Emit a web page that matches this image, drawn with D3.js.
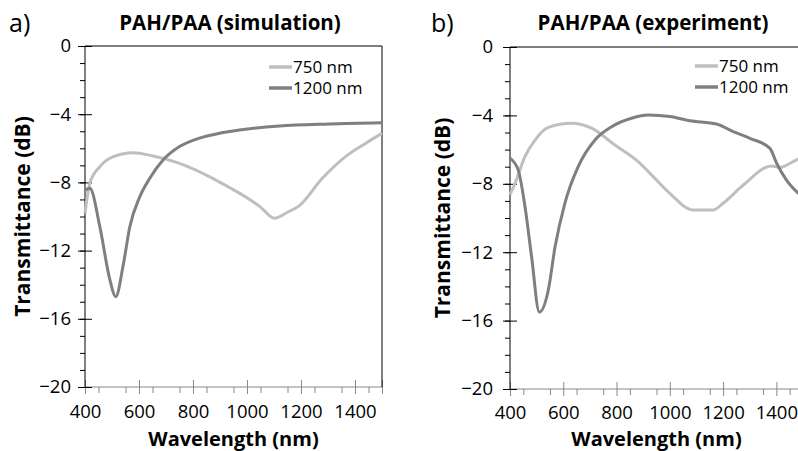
<!DOCTYPE html>
<html>
<head>
<meta charset="utf-8">
<script src="https://cdn.jsdelivr.net/npm/d3@7"></script>
<style>
  body { margin: 0; background: #fff; }
  svg text { font-family: "Open Sans", "Liberation Sans", sans-serif; fill: #000; }
</style>
</head>
<body>
<svg id="chart" width="798" height="451"></svg>
<script>
"use strict";

// simulation (panel a)
var simNm750 = [400, 418, 455, 505, 578, 652, 750, 873, 935, 1000, 1050, 1101, 1150, 1193, 1279, 1365, 1440, 1500];
var simDb750 = [-9.8, -8.05, -7.08, -6.49, -6.26, -6.45, -6.88, -7.76, -8.3, -8.9, -9.45, -10.1, -9.75, -9.38, -7.76, -6.49, -5.7, -5.12];
var simNm1200 = [400, 418, 455, 492, 514, 541, 566, 603, 640, 689, 750, 824, 898, 972, 1120, 1304, 1500];
var simDb1200 = [-8.45, -8.35, -10.6, -13.7, -14.7, -12.9, -10.6, -8.84, -7.76, -6.69, -5.9, -5.4, -5.12, -4.93, -4.69, -4.57, -4.5];

// experiment (panel b)
var expNm750 = [400, 419, 456, 494, 544, 631, 706, 794, 881, 944, 1000, 1088, 1163, 1200, 1276, 1382, 1413, 1463, 1500];
var expDb750 = [-8.65, -7.97, -6.41, -5.44, -4.7, -4.46, -4.75, -5.73, -6.7, -7.68, -8.56, -9.53, -9.53, -9.14, -8.07, -6.96, -7.04, -6.7, -6.4];
var expNm1200 = [400, 431, 456, 481, 510, 544, 569, 606, 656, 719, 782, 856, 919, 1000, 1075, 1175, 1238, 1301, 1376, 1401, 1438, 1476, 1500];
var expDb1200 = [-6.5, -7.2, -9.3, -12.26, -15.5, -14.2, -11.7, -9.14, -7.0, -5.44, -4.66, -4.17, -3.98, -4.07, -4.31, -4.5, -4.95, -5.34, -5.93, -6.8, -7.78, -8.46, -8.8];

var seriesNames = ["750 nm", "1200 nm"];
var xMajor = [400, 600, 800, 1000, 1200, 1400];
var yMajor = [0, -4, -8, -12, -16, -20];

var colours = ["#bfbfbf", "#7f7f7f"];

var svg = d3.select("#chart");

function zip(xs, ys) {
    return xs.map(function (x, i) { return [x, ys[i]]; });
}

function drawPanel(p) {
    var x = d3.scaleLinear().domain([400, 1500]).range([p.left, p.right]),
        y = d3.scaleLinear().domain([-20, 0]).range([p.bottom, p.top]);

    var g = svg.append("g");

    // minor x ticks (50 nm)
    g.append("g")
        .attr("transform", "translate(0," + p.bottom + ")")
        .call(d3.axisBottom(x).tickValues(d3.range(450, 1500, 100)).tickSize(6).tickFormat(""))
        .call(function (a) {
            a.select(".domain").remove();
            a.selectAll("line").attr("stroke", "#888");
        });

    // major x axis
    g.append("g")
        .attr("transform", "translate(0," + p.bottom + ")")
        .call(d3.axisBottom(x).tickValues(xMajor.concat([1500])).tickSize(7).tickPadding(p.xPad).tickFormat(function (d) {
            return d === 1500 ? "" : d;
        }))
        .call(function (a) {
            a.select(".domain").attr("stroke", "#888").attr("d", "M" + p.left + ",0H" + p.right);
            a.selectAll("line").attr("stroke", "#888").attr("y1", -7);
            a.selectAll("text").style("font-size", "18.5px").attr("fill", "#000");
        });

    // minor y ticks (1 dB)
    g.append("g")
        .attr("transform", "translate(" + p.left + ",0)")
        .call(d3.axisLeft(y).tickValues(d3.range(-19, 0, 1)).tickSize(5).tickFormat(""))
        .call(function (a) {
            a.select(".domain").remove();
            a.selectAll("line").attr("stroke", "#000");
        });

    // major y axis
    g.append("g")
        .attr("transform", "translate(" + p.left + ",0)")
        .call(d3.axisLeft(y).tickValues(yMajor).tickSize(7).tickPadding(p.yPad))
        .call(function (a) {
            a.select(".domain").attr("stroke", "#000").attr("d", "M0," + p.top + "V" + p.bottom);
            a.selectAll("line").attr("stroke", "#000").attr("x1", 7);
            a.selectAll("text").style("font-size", "18.5px").attr("fill", "#000");
        });

    // frame: top and right
    g.append("line")
        .attr("x1", p.left).attr("x2", p.right)
        .attr("y1", p.top).attr("y2", p.top)
        .attr("stroke", "#000");
    g.append("line")
        .attr("x1", p.right).attr("x2", p.right)
        .attr("y1", p.top).attr("y2", p.bottom)
        .attr("stroke", "#000");

    var line = d3.line()
        .x(function (d) { return x(d[0]); })
        .y(function (d) { return y(d[1]); })
        .curve(d3.curveMonotoneX);

    p.series.forEach(function (s, i) {
        g.append("path")
            .datum(s)
            .attr("d", line)
            .attr("fill", "none")
            .attr("stroke", colours[i])
            .attr("stroke-width", 3)
            .attr("stroke-linejoin", "round");
    });

    // legend
    seriesNames.forEach(function (name, i) {
        var ly = p.legendY + i * 21;
        g.append("line")
            .attr("x1", p.legendX).attr("x2", p.legendX + 23)
            .attr("y1", ly).attr("y2", ly)
            .attr("stroke", colours[i])
            .attr("stroke-width", 3.5);
        g.append("text")
            .attr("x", p.legendX + 24)
            .attr("y", ly)
            .attr("dy", "0.35em")
            .style("font-size", "17px")
            .text(name);
    });

    // titles
    var cx = (p.left + p.right) / 2;
    g.append("text")
        .attr("x", p.titleX)
        .attr("y", 30)
        .attr("text-anchor", "middle")
        .style("font-size", "20.5px")
        .style("font-weight", "bold")
        .text(p.title);
    g.append("text")
        .attr("x", p.tagX)
        .attr("y", 32)
        .style("font-size", "25px")
        .text(p.tag);
    g.append("text")
        .attr("x", cx)
        .attr("y", 445.5)
        .attr("text-anchor", "middle")
        .style("font-size", "20px")
        .style("font-weight", "bold")
        .text("Wavelength (nm)");
    g.append("text")
        .attr("transform", "translate(" + p.yTitleX + "," + ((p.top + p.bottom) / 2) + ") rotate(-90)")
        .attr("text-anchor", "middle")
        .style("font-size", "21px")
        .style("font-weight", "bold")
        .text("Transmittance (dB)");
}

drawPanel({
    left: 85, right: 382, top: 46, bottom: 387,
    xPad: 11, yPad: 7,
    title: "PAH/PAA (simulation)", titleX: 230,
    tag: "a)", tagX: 9, yTitleX: 30,
    legendX: 269, legendY: 67,
    series: [zip(simNm750, simDb750), zip(simNm1200, simDb1200)]
});

drawPanel({
    left: 510, right: 803, top: 47, bottom: 389,
    xPad: 10, yPad: 10,
    title: "PAH/PAA (experiment)", titleX: 653,
    tag: "b)", tagX: 431, yTitleX: 450,
    legendX: 695, legendY: 66,
    series: [zip(expNm750, expDb750), zip(expNm1200, expDb1200)]
});
</script>
</body>
</html>
